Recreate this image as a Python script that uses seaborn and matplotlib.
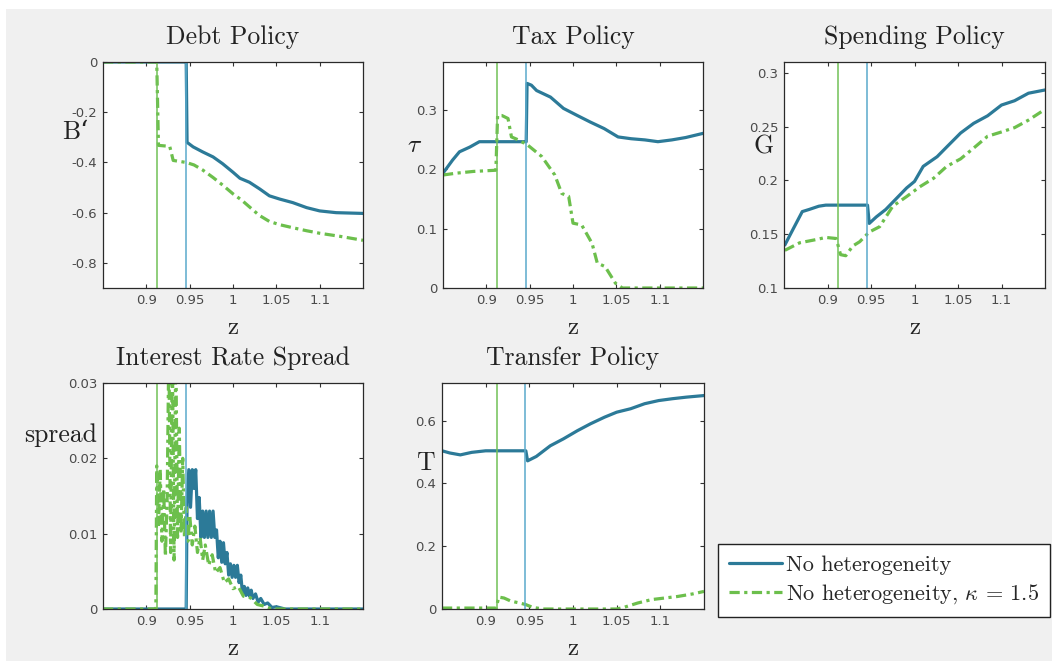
import numpy as np
import pandas as pd
import matplotlib
matplotlib.use("Agg")
import matplotlib.pyplot as plt
from matplotlib.patches import Rectangle
from matplotlib.lines import Line2D
import seaborn as sns

# ---------------- data ----------------
# thresholds (vertical markers)
z_cut_base = 0.9455
z_cut_kappa = 0.9125

# Debt policy B'
debt_base_z = [0.85, 0.946, 0.947, 0.954, 0.965, 0.977, 0.988, 1.0, 1.008, 1.019, 1.031,
               1.042, 1.054, 1.069, 1.085, 1.1, 1.119, 1.15]
debt_base_v = [0.0, 0.0, -0.32, -0.338, -0.358, -0.378, -0.405, -0.439, -0.463, -0.479, -0.506,
               -0.533, -0.546, -0.56, -0.58, -0.593, -0.6, -0.603]
debt_kappa_z = [0.85, 0.912, 0.914, 0.927, 0.931, 0.946, 0.955, 0.965, 0.977, 0.988, 1.0, 1.01,
                1.02, 1.03, 1.042, 1.054, 1.069, 1.085, 1.1, 1.123, 1.15]
debt_kappa_v = [0.0, 0.0, -0.332, -0.336, -0.392, -0.4, -0.41, -0.43, -0.46, -0.49, -0.525, -0.55,
                -0.58, -0.61, -0.635, -0.648, -0.66, -0.672, -0.682, -0.694, -0.71]

# Tax policy tau
tax_base_z = [0.85, 0.861, 0.869, 0.881, 0.892, 0.946, 0.947, 0.952, 0.958, 0.974, 0.989, 1.005,
              1.02, 1.036, 1.052, 1.067, 1.083, 1.098, 1.114, 1.13, 1.15]
tax_base_v = [0.193, 0.215, 0.229, 0.237, 0.246, 0.246, 0.344, 0.341, 0.332, 0.321, 0.302, 0.29,
              0.279, 0.268, 0.254, 0.251, 0.249, 0.246, 0.249, 0.253, 0.26]
tax_kappa_z = [0.85, 0.865, 0.885, 0.911, 0.913, 0.918, 0.925, 0.929, 0.937, 0.948, 0.964, 0.979,
               0.987, 0.995, 1.0, 1.01, 1.022, 1.028, 1.037, 1.049, 1.057, 1.15]
tax_kappa_v = [0.19, 0.193, 0.196, 0.198, 0.29, 0.29, 0.285, 0.254, 0.249, 0.24, 0.221, 0.19,
               0.159, 0.154, 0.109, 0.106, 0.075, 0.042, 0.036, 0.008, 0.0, 0.0]

# Spending policy G
spend_base_z = [0.851, 0.86, 0.871, 0.879, 0.89, 0.898, 0.946, 0.948, 0.956, 0.967, 0.979, 0.991,
                1.0, 1.01, 1.026, 1.037, 1.053, 1.068, 1.084, 1.1, 1.115, 1.131, 1.15]
spend_base_v = [0.14, 0.154, 0.171, 0.173, 0.176, 0.177, 0.177, 0.16, 0.166, 0.173, 0.183, 0.193,
                0.199, 0.213, 0.222, 0.231, 0.244, 0.253, 0.26, 0.27, 0.274, 0.281, 0.284]
spend_kappa_z = [0.851, 0.868, 0.887, 0.898, 0.91, 0.915, 0.921, 0.929, 0.937, 0.948, 0.96, 0.975,
                 0.991, 1.006, 1.022, 1.037, 1.053, 1.068, 1.084, 1.1, 1.115, 1.131, 1.15]
spend_kappa_v = [0.135, 0.142, 0.145, 0.147, 0.146, 0.131, 0.13, 0.139, 0.143, 0.152, 0.157, 0.176,
                 0.185, 0.194, 0.202, 0.213, 0.22, 0.23, 0.241, 0.245, 0.249, 0.256, 0.266]

# Interest rate spread
spread_base_z = [0.85, 0.946, 0.947, 0.949, 0.951, 0.953, 0.955, 0.957, 0.959, 0.961, 0.963,
                 0.965, 0.967, 0.969, 0.971, 0.973, 0.975, 0.977, 0.979, 0.981, 0.983, 0.985,
                 0.987, 0.989, 0.991, 0.993, 0.995, 0.997, 0.999, 1.001, 1.003, 1.005, 1.007,
                 1.009, 1.011, 1.013, 1.015, 1.017, 1.019, 1.021, 1.023, 1.026, 1.029, 1.032,
                 1.036, 1.04, 1.045, 1.05, 1.06, 1.15]
spread_base_v = [0.0, 0.0, 0.014, 0.0185, 0.0135, 0.0185, 0.016, 0.0185, 0.012, 0.0148, 0.0095,
                 0.013, 0.0095, 0.013, 0.0095, 0.013, 0.0095, 0.013, 0.0095, 0.0105, 0.0068,
                 0.009, 0.0062, 0.0088, 0.006, 0.0075, 0.0045, 0.006, 0.0042, 0.0058, 0.0042,
                 0.0058, 0.0035, 0.0045, 0.002, 0.003, 0.0018, 0.0028, 0.0017, 0.0025, 0.0014,
                 0.002, 0.0009, 0.0014, 0.0006, 0.0008, 0.0002, 0.0003, 0.0, 0.0]
spread_kappa_z = [0.85, 0.911, 0.912, 0.914, 0.916, 0.918, 0.92, 0.922, 0.924, 0.926, 0.928,
                  0.93, 0.932, 0.934, 0.936, 0.938, 0.94, 0.942, 0.944, 0.946, 0.948, 0.95,
                  0.953, 0.956, 0.959, 0.962, 0.965, 0.968, 0.972, 0.976, 0.98, 0.985, 0.99,
                  0.995, 1.0, 1.006, 1.012, 1.02, 1.028, 1.035, 1.045, 1.15]
spread_kappa_v = [0.0, 0.0, 0.019, 0.011, 0.0185, 0.009, 0.016, 0.007, 0.0145, 0.035, 0.0075,
                  0.035, 0.0065, 0.035, 0.0095, 0.024, 0.01, 0.02, 0.0095, 0.0135, 0.009, 0.0125,
                  0.0085, 0.011, 0.0075, 0.0095, 0.0065, 0.0085, 0.0058, 0.0072, 0.0048, 0.0055,
                  0.0035, 0.004, 0.0027, 0.003, 0.0017, 0.0015, 0.0006, 0.0004, 0.0, 0.0]

# Transfer policy T
transfer_base_z = [0.85, 0.859, 0.871, 0.884, 0.9, 0.946, 0.948, 0.958, 0.974, 0.989, 1.005,
                   1.02, 1.036, 1.05, 1.066, 1.082, 1.098, 1.114, 1.13, 1.15]
transfer_base_v = [0.504, 0.497, 0.491, 0.499, 0.504, 0.504, 0.472, 0.486, 0.52, 0.542, 0.568,
                   0.59, 0.611, 0.627, 0.638, 0.654, 0.664, 0.67, 0.675, 0.68]
transfer_kappa_z = [0.85, 0.912, 0.915, 0.921, 0.929, 0.939, 0.946, 0.954, 0.966, 1.05, 1.058,
                    1.074, 1.09, 1.105, 1.12, 1.137, 1.15]
transfer_kappa_v = [0.003, 0.003, 0.038, 0.035, 0.025, 0.019, 0.014, 0.005, 0.0, 0.0, 0.005,
                    0.019, 0.03, 0.035, 0.04, 0.048, 0.056]

series_names = ["No heterogeneity", r"No heterogeneity, $\kappa$ = 1.5"]

x_ticks = [0.9, 0.95, 1.0, 1.05, 1.1]
x_tick_labels = ["0.9", "0.95", "1", "1.05", "1.1"]

# ---------------- style ----------------
sns.set_theme(style="ticks")
plt.rcParams["mathtext.fontset"] = "cm"
plt.rcParams["font.family"] = ["DejaVu Sans"]

SERIF = ["cmr10", "DejaVu Serif"]
BLUE = "#2c7a98"
BLUE_V = "#5aaacb"
GREEN = "#6cbf4c"
GREEN_V = "#72c157"
BG = "#f0f0f0"
DASH = (0, (3.2, 1.4, 1.0, 1.4))

W, H = 1052, 661
fig = plt.figure(figsize=(W / 100, H / 100), dpi=100, facecolor="white")
fig.patches.append(Rectangle((6 / W, 0), 1, 1 - 9 / H, transform=fig.transFigure,
                             facecolor=BG, edgecolor="none", zorder=-10))


def make_ax(left, right, top, bottom):
    return fig.add_axes([left / W, 1 - bottom / H, (right - left) / W, (bottom - top) / H])


panels = [
    dict(box=(103, 363, 62, 288), title="Debt Policy", ylabel="B\u2018",
         lab=(-0.108, 0.69), ylim=(-0.9, 0.0),
         yticks=[-0.8, -0.6, -0.4, -0.2, 0.0], ytl=["-0.8", "-0.6", "-0.4", "-0.2", "0"],
         base=(debt_base_z, debt_base_v), kappa=(debt_kappa_z, debt_kappa_v)),
    dict(box=(443, 703, 62, 288), title="Tax Policy", ylabel=r"$\tau$",
         lab=(-0.108, 0.633), ylim=(0.0, 0.38),
         yticks=[0.0, 0.1, 0.2, 0.3], ytl=["0", "0.1", "0.2", "0.3"],
         base=(tax_base_z, tax_base_v), kappa=(tax_kappa_z, tax_kappa_v)),
    dict(box=(784, 1045, 62, 288), title="Spending Policy", ylabel="G",
         lab=(-0.08, 0.624), ylim=(0.1, 0.31),
         yticks=[0.1, 0.15, 0.2, 0.25, 0.3], ytl=["0.1", "0.15", "0.2", "0.25", "0.3"],
         base=(spend_base_z, spend_base_v), kappa=(spend_kappa_z, spend_kappa_v)),
    dict(box=(103, 363, 383, 609), title="Interest Rate Spread", ylabel="spread",
         lab=(-0.165, 0.77), ylim=(0.0, 0.03),
         yticks=[0.0, 0.01, 0.02, 0.03], ytl=["0", "0.01", "0.02", "0.03"],
         base=(spread_base_z, spread_base_v), kappa=(spread_kappa_z, spread_kappa_v)),
    dict(box=(442, 704, 383, 609), title="Transfer Policy", ylabel="T",
         lab=(-0.065, 0.646), ylim=(0.0, 0.72),
         yticks=[0.0, 0.2, 0.4, 0.6], ytl=["0", "0.2", "0.4", "0.6"],
         base=(transfer_base_z, transfer_base_v), kappa=(transfer_kappa_z, transfer_kappa_v)),
]

for p in panels:
    ax = make_ax(*p["box"])
    ax.set_facecolor("white")
    bz, bv = p["base"]
    kz, kv = p["kappa"]
    df_b = pd.DataFrame({"z": bz, "v": bv})
    df_k = pd.DataFrame({"z": kz, "v": kv})
    sns.lineplot(data=df_b, x="z", y="v", ax=ax, color=BLUE, lw=2.3,
                 estimator=None, sort=False, label=series_names[0], legend=False)
    sns.lineplot(data=df_k, x="z", y="v", ax=ax, color=GREEN, lw=2.3,
                 estimator=None, sort=False, label=series_names[1], legend=False)
    ax.lines[-1].set_linestyle(DASH)
    ax.axvline(z_cut_kappa, color=GREEN_V, lw=1.1)
    ax.axvline(z_cut_base, color=BLUE_V, lw=1.1)

    ax.set_xlim(0.85, 1.15)
    ax.set_ylim(*p["ylim"])
    ax.set_xticks(x_ticks)
    ax.set_xticklabels(x_tick_labels)
    ax.set_yticks(p["yticks"])
    ax.set_yticklabels(p["ytl"])
    ax.tick_params(direction="in", length=3, width=0.8, color="#333333",
                   top=True, right=True, labelsize=9.5, labelcolor="#4a4a4a", pad=4)
    for s in ax.spines.values():
        s.set_visible(True)
        s.set_color("#2a2a2a")
        s.set_linewidth(0.9)

    ax.set_xlabel("z", family=SERIF, fontsize=18, color="#222222")
    ax.xaxis.set_label_coords(0.5, -0.175)
    ax.xaxis.label.set_va("center")
    ax.set_ylabel(p["ylabel"], family=SERIF, fontsize=18.5, rotation=0,
                  ha="center", va="center", color="#222222")
    ax.yaxis.set_label_coords(*p["lab"])
    ax.text(0.5, 1 + 25 / 226, p["title"], transform=ax.transAxes, ha="center",
            va="center", family=SERIF, fontsize=18.5, color="#222222")

handles = [Line2D([], [], color=BLUE, lw=2.3),
           Line2D([], [], color=GREEN, lw=2.3, linestyle=DASH)]
leg = fig.legend(handles, series_names, loc="upper left",
                 bbox_to_anchor=(718 / W, 1 - 544 / H), frameon=True, fancybox=False,
                 edgecolor="#222222", facecolor="white", framealpha=1,
                 prop={"family": SERIF, "size": 16}, handlelength=2.4,
                 handletextpad=0.15, borderpad=0.5, labelspacing=0.35,
                 borderaxespad=0)
leg.get_frame().set_linewidth(1.0)

fig.savefig("out.png", dpi=100, facecolor=fig.get_facecolor())
